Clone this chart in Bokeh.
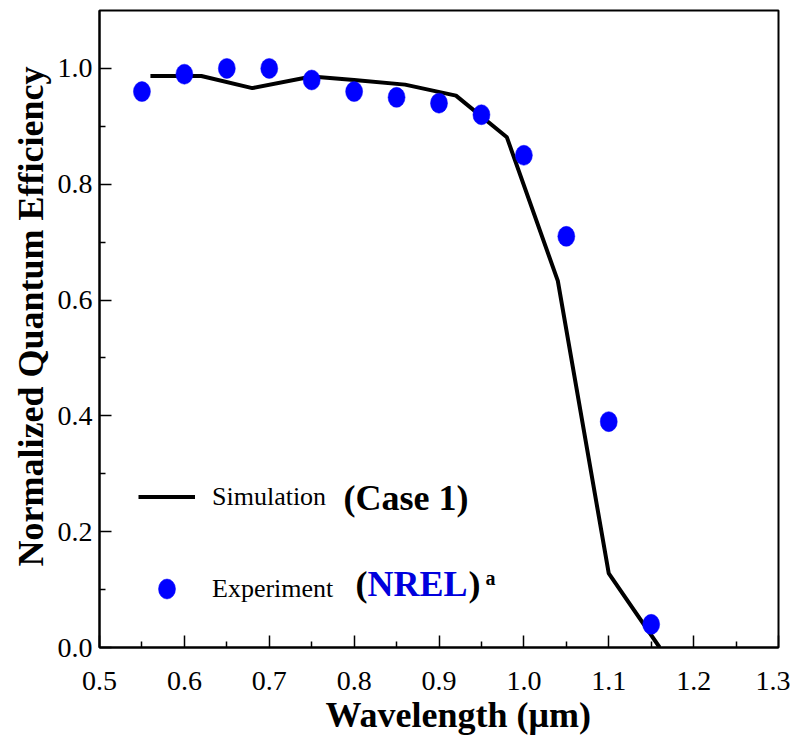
from bokeh.plotting import figure
from bokeh.models import (Range1d, FixedTicker, PrintfTickFormatter, Label,
                          Legend, LegendItem, ColumnDataSource, Title)
from bokeh.embed import file_html
from bokeh.resources import INLINE

# ---------------- data ----------------
sim_wavelength = [0.56, 0.62, 0.68, 0.75, 0.80, 0.86, 0.92, 0.98, 1.04, 1.10, 1.16]
sim_qe = [0.987, 0.987, 0.966, 0.986, 0.980, 0.972, 0.953, 0.881, 0.633, 0.128, 0.0]

exp_wavelength = [0.55, 0.60, 0.65, 0.70, 0.75, 0.80, 0.85, 0.90, 0.95, 1.00, 1.05, 1.10, 1.15]
exp_qe = [0.96, 0.99, 1.00, 1.00, 0.98, 0.96, 0.95, 0.94, 0.92, 0.85, 0.71, 0.39, 0.04]

x_major_ticks = [0.5, 0.6, 0.7, 0.8, 0.9, 1.0, 1.1, 1.2, 1.3]
x_minor_ticks = [0.55, 0.65, 0.75, 0.85, 0.95, 1.05, 1.15, 1.25]
y_major_ticks = [0.0, 0.2, 0.4, 0.6, 0.8, 1.0]
y_minor_ticks = [0.1, 0.3, 0.5, 0.7, 0.9]

x_title = "Wavelength (μm)"
y_title = "Normalized Quantum Efficiency"
sim_label = "Simulation"
exp_label = "Experiment"
case_label = "(Case 1)"
src_label = "NREL"

FONT = "Liberation Serif"

p = figure(width=790, height=737, output_backend="svg", toolbar_location=None,
           x_range=Range1d(0.5, 1.3), y_range=Range1d(0.0, 1.1),
           min_border_left=99, min_border_right=12, min_border_top=10,
           min_border_bottom=90)
p.grid.visible = False
p.background_fill_color = "white"
p.border_fill_color = "white"
p.outline_line_color = "black"
p.outline_line_width = 2

for ax, major, minor in ((p.xaxis[0], x_major_ticks, x_minor_ticks),
                         (p.yaxis[0], y_major_ticks, y_minor_ticks)):
    ax.ticker = FixedTicker(ticks=major, minor_ticks=minor)
    ax.formatter = PrintfTickFormatter(format="%.1f")
    ax.axis_line_color = "black"
    ax.axis_line_width = 2
    ax.major_tick_in = 12
    ax.major_tick_out = 0
    ax.minor_tick_in = 6
    ax.minor_tick_out = 0
    ax.major_tick_line_width = 1.5
    ax.minor_tick_line_width = 1.5
    ax.major_tick_line_color = "black"
    ax.minor_tick_line_color = "black"
    ax.major_label_text_font = FONT
    ax.major_label_text_font_size = "28px"
    ax.major_label_text_color = "black"

p.xaxis[0].major_label_standoff = 24
p.yaxis[0].major_label_standoff = 7

sim_src = ColumnDataSource(dict(x=sim_wavelength, y=sim_qe))
exp_src = ColumnDataSource(dict(x=exp_wavelength, y=exp_qe))

r_sim = p.line("x", "y", source=sim_src, line_color="black", line_width=4)
r_exp = p.ellipse("x", "y", source=exp_src, width=17, height=20,
                  width_units="screen", height_units="screen",
                  fill_color="#0000FF", line_color="#0000FF", line_width=0.5)

legend = Legend(items=[LegendItem(label=sim_label, renderers=[r_sim]),
                       LegendItem(label=exp_label, renderers=[r_exp])],
                location=(39, 43.5), orientation="vertical",
                glyph_width=57, glyph_height=25, label_height=25,
                label_standoff=17, spacing=62, padding=0, margin=0,
                border_line_color=None, background_fill_alpha=0,
                label_text_font=FONT, label_text_font_size="26px",
                label_text_color="black")
p.add_layout(legend, "center")

# axis titles (as side titles so they can be offset like the reference)
p.add_layout(Title(text=x_title, align="left", offset=226, standoff=0,
                   text_line_height=0.9,
                   text_font=FONT, text_font_style="bold", text_font_size="36px",
                   text_color="black"), "below")
p.add_layout(Title(text=y_title, align="left", offset=81, standoff=8,
                   text_font=FONT, text_font_style="bold", text_font_size="36px",
                   text_color="black"), "left")

# legend annotations
p.add_layout(Label(x=244, y=150, x_units="screen", y_units="screen",
                   text=case_label, text_align="left", text_baseline="middle",
                   text_font=FONT, text_font_style="bold", text_font_size="36px",
                   text_color="black"))
p.add_layout(Label(x=256, y=64, x_units="screen", y_units="screen",
                   text="(", text_align="left", text_baseline="middle",
                   text_font=FONT, text_font_style="bold", text_font_size="36px",
                   text_color="black"))
p.add_layout(Label(x=268, y=64, x_units="screen", y_units="screen",
                   text=src_label, text_align="left", text_baseline="middle",
                   text_font=FONT, text_font_style="bold", text_font_size="36px",
                   text_color="#0000DD"))
p.add_layout(Label(x=369, y=64, x_units="screen", y_units="screen",
                   text=")", text_align="left", text_baseline="middle",
                   text_font=FONT, text_font_style="bold", text_font_size="36px",
                   text_color="black"))
p.add_layout(Label(x=386, y=70, x_units="screen", y_units="screen",
                   text="a", text_align="left", text_baseline="alphabetic",
                   text_font=FONT, text_font_style="bold", text_font_size="20px",
                   text_color="black"))

open("out.html", "w").write(file_html(p, INLINE))
